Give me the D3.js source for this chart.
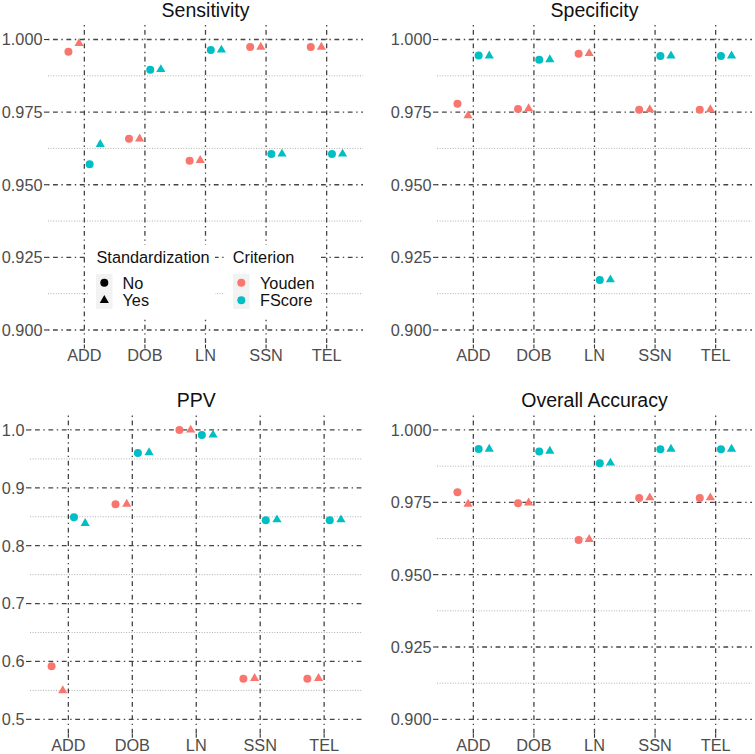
<!DOCTYPE html>
<html>
<head>
<meta charset="utf-8">
<script src="https://cdn.jsdelivr.net/npm/d3@7/dist/d3.min.js"></script>
<style>
  html, body { margin: 0; padding: 0; background: #ffffff; }
  svg { display: block; }
  text { font-family: "Liberation Sans", Arial, Helvetica, sans-serif; font-weight: 400; }
</style>
</head>
<body>
<svg id="chart" width="755" height="754"></svg>
<script>
// ---------------- DATA ----------------
const categories = ["ADD", "DOB", "LN", "SSN", "TEL"];
const criteria = ["Youden", "FScore"];
const standardization = ["No", "Yes"];

// Sensitivity
const sensYoudenNo  = [0.9958, 0.9658, 0.9583, 0.9974, 0.9974];
const sensYoudenYes = [0.9987, 0.9658, 0.9584, 0.9974, 0.9974];
const sensFScoreNo  = [0.9571, 0.9896, 0.9964, 0.9606, 0.9606];
const sensFScoreYes = [0.9639, 0.9897, 0.9964, 0.9606, 0.9606];

// Specificity
const specYoudenNo  = [0.9779, 0.9761, 0.9951, 0.9758, 0.9758];
const specYoudenYes = [0.9738, 0.9762, 0.9952, 0.9759, 0.9759];
const specFScoreNo  = [0.9945, 0.9930, 0.9172, 0.9943, 0.9943];
const specFScoreYes = [0.9944, 0.9931, 0.9173, 0.9944, 0.9944];

// PPV
const ppvYoudenNo  = [0.5916, 0.8716, 1.0000, 0.5700, 0.5700];
const ppvYoudenYes = [0.5498, 0.8720, 1.0000, 0.5710, 0.5710];
const ppvFScoreNo  = [0.8490, 0.9600, 0.9914, 0.8440, 0.8440];
const ppvFScoreYes = [0.8386, 0.9610, 0.9914, 0.8450, 0.8450];

// Overall Accuracy
const accYoudenNo  = [0.9785, 0.9747, 0.9620, 0.9765, 0.9765];
const accYoudenYes = [0.9744, 0.9748, 0.9622, 0.9766, 0.9766];
const accFScoreNo  = [0.9934, 0.9926, 0.9885, 0.9933, 0.9933];
const accFScoreYes = [0.9934, 0.9927, 0.9886, 0.9934, 0.9934];

// Axis ticks
const ticksTop = [0.900, 0.925, 0.950, 0.975, 1.000];
const minorTop = [0.9125, 0.9375, 0.9625, 0.9875];
const ticksPPV = [0.5, 0.6, 0.7, 0.8, 0.9, 1.0];
const minorPPV = [0.55, 0.65, 0.75, 0.85, 0.95];

// ---------------- STYLE / LAYOUT ----------------
const colors = { Youden: "#F8766D", FScore: "#00BFC4" };
const majorColor = "#444444";
const minorColor = "#b0b0b0";
const tickTextColor = "#4D4D4D";

const panels = [
  { title: "Sensitivity", x0: 48, x1: 363, y0: 25, y1: 344.5, lim: [0.9, 1.0], ticks: ticksTop, minor: minorTop, fmt: ".3f", titleY: 17,
    series: [sensYoudenNo, sensYoudenYes, sensFScoreNo, sensFScoreYes], legend: true },
  { title: "Specificity", x0: 437, x1: 752, y0: 25, y1: 344.5, lim: [0.9, 1.0], ticks: ticksTop, minor: minorTop, fmt: ".3f", titleY: 17,
    series: [specYoudenNo, specYoudenYes, specFScoreNo, specFScoreYes] },
  { title: "PPV", x0: 30, x1: 362.5, y0: 415.5, y1: 733.8, lim: [0.5, 1.0], ticks: ticksPPV, minor: minorPPV, fmt: ".1f", titleY: 406.5,
    series: [ppvYoudenNo, ppvYoudenYes, ppvFScoreNo, ppvFScoreYes] },
  { title: "Overall Accuracy", x0: 437, x1: 752, y0: 415.5, y1: 733.8, lim: [0.9, 1.0], ticks: ticksTop, minor: minorTop, fmt: ".3f", titleY: 406.5,
    series: [accYoudenNo, accYoudenYes, accFScoreNo, accFScoreYes] }
];

// group order: Youden-No, Youden-Yes, FScore-No, FScore-Yes
const groups = [
  { crit: "Youden", std: "No" },
  { crit: "Youden", std: "Yes" },
  { crit: "FScore", std: "No" },
  { crit: "FScore", std: "Yes" }
];

const svg = d3.select("#chart");
svg.append("rect").attr("width", 755).attr("height", 754).attr("fill", "#fff");

const DOTDASH = "1.4,3.6,4.8,3.6";
const circleR = 4.0;
const triR = 3.4;

// R-style filled triangle (pch 17), centred at point
function triPath(cx, cy, R) {
  const r = 1.5551 * R, xc = 1.3468 * R, yc = 0.7776 * R;
  return `M${cx},${cy - r}L${cx + xc},${cy + yc}L${cx - xc},${cy + yc}Z`;
}

panels.forEach(p => {
  const g = svg.append("g");
  const ext = (p.lim[1] - p.lim[0]) * 0.05;
  const y = d3.scaleLinear().domain([p.lim[0] - ext, p.lim[1] + ext]).range([p.y1, p.y0]);
  const x = d3.scalePoint().domain(categories).range([p.x0, p.x1]).padding(0.6);
  const step = x.step();
  const dodgeW = step * 0.7 / groups.length;

  // minor horizontal grid
  g.selectAll(".minor").data(p.minor).join("line")
    .attr("x1", p.x0).attr("x2", p.x1)
    .attr("y1", d => y(d)).attr("y2", d => y(d))
    .attr("stroke", minorColor).attr("stroke-width", 1)
    .attr("stroke-dasharray", "1,1.6");

  // major horizontal grid
  g.selectAll(".major").data(p.ticks).join("line")
    .attr("x1", p.x0).attr("x2", p.x1)
    .attr("y1", d => y(d)).attr("y2", d => y(d))
    .attr("stroke", majorColor).attr("stroke-width", 1.3)
    .attr("stroke-dasharray", DOTDASH);

  // vertical grid
  g.selectAll(".vgrid").data(categories).join("line")
    .attr("x1", d => x(d)).attr("x2", d => x(d))
    .attr("y1", p.y0).attr("y2", p.y1)
    .attr("stroke", majorColor).attr("stroke-width", 1.3)
    .attr("stroke-dasharray", DOTDASH);

  // axis ticks
  g.selectAll(".yt").data(p.ticks).join("line")
    .attr("x1", p.x0 - 4).attr("x2", p.x0)
    .attr("y1", d => y(d)).attr("y2", d => y(d))
    .attr("stroke", "#333").attr("stroke-width", 1.1);
  g.selectAll(".xt").data(categories).join("line")
    .attr("x1", d => x(d)).attr("x2", d => x(d))
    .attr("y1", p.y1).attr("y2", p.y1 + 4)
    .attr("stroke", "#333").attr("stroke-width", 1.1);

  // tick labels
  const f = d3.format(p.fmt);
  g.selectAll(".ylab").data(p.ticks).join("text")
    .attr("x", p.x0 - 5.5).attr("y", d => y(d))
    .attr("dy", "0.36em")
    .attr("text-anchor", "end")
    .attr("font-size", 16.3).attr("fill", tickTextColor)
    .text(d => f(d));
  g.selectAll(".xlab").data(categories).join("text")
    .attr("x", d => x(d)).attr("y", p.y1 + 16.8)
    .attr("text-anchor", "middle")
    .attr("font-size", 16.3).attr("fill", tickTextColor)
    .text(d => d);

  // title
  g.append("text")
    .attr("x", (p.x0 + p.x1) / 2).attr("y", p.titleY)
    .attr("text-anchor", "middle")
    .attr("font-size", 19.5).attr("fill", "#111")
    .text(p.title);

  // points
  groups.forEach((gr, gi) => {
    const vals = p.series[gi];
    const off = (gi - (groups.length - 1) / 2) * dodgeW;
    const pts = categories.map((c, i) => ({ c, v: vals[i] }));
    if (gr.std === "No") {
      g.selectAll(null).data(pts).join("circle")
        .attr("cx", d => x(d.c) + off).attr("cy", d => y(d.v))
        .attr("r", circleR).attr("fill", colors[gr.crit]);
    } else {
      g.selectAll(null).data(pts).join("path")
        .attr("d", d => triPath(x(d.c) + off, y(d.v), triR))
        .attr("fill", colors[gr.crit]);
    }
  });

  if (p.legend) {
    const lg = svg.append("g");
    // Standardization legend
    lg.append("rect").attr("x", 88).attr("y", 245).attr("width", 127).attr("height", 73).attr("fill", "#fff");
    lg.append("text").attr("x", 96.5).attr("y", 263.3).attr("font-size", 16.3).attr("fill", "#111").text("Standardization");
    standardization.forEach((s, i) => {
      const ky = 274 + i * 17.5;
      lg.append("rect").attr("x", 96).attr("y", ky).attr("width", 16.5).attr("height", 17.5).attr("fill", "#f2f2f2");
      const cy = ky + 8.75;
      if (s === "No") lg.append("circle").attr("cx", 104.3).attr("cy", cy).attr("r", circleR).attr("fill", "#000");
      else lg.append("path").attr("d", triPath(104.3, cy, triR)).attr("fill", "#000");
      lg.append("text").attr("x", 122.5).attr("y", cy).attr("dy", "0.36em").attr("font-size", 16.3).attr("fill", "#111").text(s);
    });
    // Criterion legend
    lg.append("rect").attr("x", 225).attr("y", 245).attr("width", 96).attr("height", 73).attr("fill", "#fff");
    lg.append("text").attr("x", 232.8).attr("y", 263.3).attr("font-size", 16.3).attr("fill", "#111").text("Criterion");
    criteria.forEach((c, i) => {
      const ky = 274 + i * 17.5;
      lg.append("rect").attr("x", 233).attr("y", ky).attr("width", 16.5).attr("height", 17.5).attr("fill", "#f2f2f2");
      const cy = ky + 8.75;
      lg.append("circle").attr("cx", 241.3).attr("cy", cy).attr("r", circleR).attr("fill", colors[c]);
      lg.append("text").attr("x", 260).attr("y", cy).attr("dy", "0.36em").attr("font-size", 16.3).attr("fill", "#111").text(c);
    });
  }
});
</script>
</body>
</html>
